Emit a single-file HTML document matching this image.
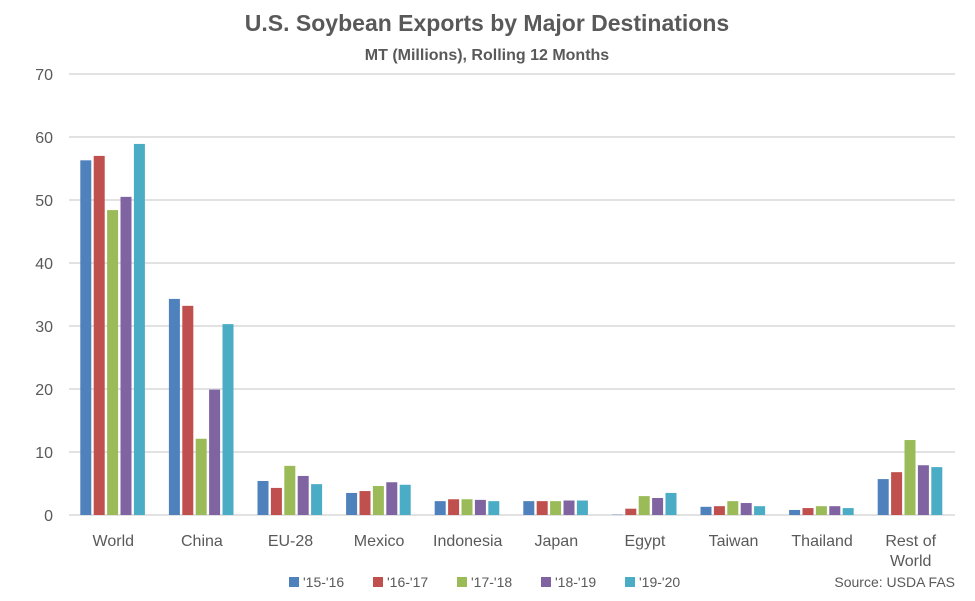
<!DOCTYPE html>
<html><head><meta charset="utf-8"><style>body{margin:0;background:#fff}svg{display:block}text{font-family:"Liberation Sans",sans-serif}</style></head><body>
<svg width="975" height="601" xmlns="http://www.w3.org/2000/svg">
<text x="487" y="31" text-anchor="middle" font-size="23" font-weight="bold" fill="#595959">U.S. Soybean Exports by Major Destinations</text>
<text x="487" y="60" text-anchor="middle" font-size="16" font-weight="bold" fill="#595959">MT (Millions), Rolling 12 Months</text>
<g stroke="#d9d9d9" stroke-width="1.5" id="grid"></g>
<g id="bars"></g>
<g font-size="16" fill="#595959" id="labels"></g>
<g font-size="14" fill="#595959">
<rect x="289" y="577" width="10" height="10" fill="#4f81bd"/><text x="303" y="587">'15-'16</text>
<rect x="373" y="577" width="10" height="10" fill="#c0504d"/><text x="387" y="587">'16-'17</text>
<rect x="457" y="577" width="10" height="10" fill="#9bbb59"/><text x="471" y="587">'17-'18</text>
<rect x="541" y="577" width="10" height="10" fill="#8064a2"/><text x="555" y="587">'18-'19</text>
<rect x="625" y="577" width="10" height="10" fill="#4bacc6"/><text x="639" y="587">'19-'20</text>
<text x="955" y="587" text-anchor="end">Source: USDA FAS</text>
</g>
<script>
var ns="http://www.w3.org/2000/svg",g=document.getElementById('grid'),b=document.getElementById('bars'),l=document.getElementById('labels');
function el(p,t,a,tx){var e=document.createElementNS(ns,t);for(var k in a)e.setAttribute(k,a[k]);if(tx)e.textContent=tx;p.appendChild(e);return e;}
for(var i=0;i<=7;i++){var y=515-i*63;el(g,'line',{x1:69,x2:955,y1:y,y2:y});el(l,'text',{x:53,y:y+6,'text-anchor':'end'},String(i*10));}
var d=[["World",[56.3,57,48.4,50.5,58.9]],["China",[34.3,33.2,12.1,19.9,30.3]],["EU-28",[5.4,4.3,7.8,6.2,4.9]],["Mexico",[3.5,3.8,4.6,5.2,4.8]],["Indonesia",[2.2,2.5,2.5,2.4,2.2]],["Japan",[2.2,2.2,2.2,2.3,2.3]],["Egypt",[0.05,1.0,3.0,2.7,3.5]],["Taiwan",[1.3,1.4,2.2,1.9,1.4]],["Thailand",[0.8,1.1,1.4,1.4,1.1]],["Rest of|World",[5.7,6.8,11.9,7.9,7.6]]];
var c=["#4f81bd","#c0504d","#9bbb59","#8064a2","#4bacc6"];
d.forEach(function(r,j){var cx=69+88.6*(j+0.5);r[1].forEach(function(v,k){var h=v*6.3;el(b,'rect',{x:cx-33+k*13.4,y:515-h,width:11,height:h,fill:c[k]});});
var p=r[0].split('|');if(p.length==1)el(l,'text',{x:cx,y:546,'text-anchor':'middle'},p[0]);else{el(l,'text',{x:cx,y:546,'text-anchor':'middle'},p[0]);el(l,'text',{x:cx,y:566,'text-anchor':'middle'},p[1]);}});
</script>
</svg>
</body></html>
